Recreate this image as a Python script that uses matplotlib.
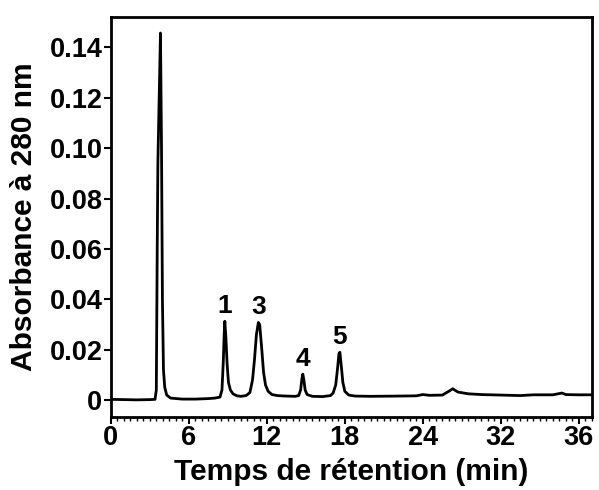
import matplotlib
matplotlib.use('Agg')
import matplotlib.pyplot as plt
from matplotlib.ticker import MultipleLocator

# chromatogram (time in min, absorbance at 280 nm)
t = [0.0, 1.0, 2.0, 3.0, 3.40, 3.50, 3.57, 3.62, 3.72, 3.82, 3.90, 3.97,
     4.05, 4.15, 4.30, 4.60, 5.5, 6.5, 7.5, 8.0, 8.40, 8.55, 8.65, 8.72,
     8.77, 8.85, 8.95, 9.05, 9.20, 9.40, 9.70, 10.0, 10.4, 10.7, 10.9,
     11.05, 11.2, 11.35, 11.45, 11.6, 11.75, 11.9, 12.1, 12.4, 12.8, 13.5,
     14.2, 14.45, 14.6, 14.7, 14.77, 14.85, 14.95, 15.1, 15.5, 16.3, 16.9,
     17.1, 17.3, 17.45, 17.55, 17.62, 17.72, 17.85, 18.0, 18.3, 18.8, 20.0,
     22.0, 23.5, 24.0, 24.5, 25.5, 26.0, 26.3, 26.7, 27.5, 28.5, 30.0, 31.5,
     32.5, 34.0, 34.7, 35.0, 36.0, 37.0]
absorb = [0.0003, 0.0002, 0.0001, 0.0002, 0.0003, 0.004, 0.060, 0.094, 0.120,
          0.1457, 0.100, 0.040, 0.012, 0.005, 0.002, 0.0008, 0.0004, 0.0004,
          0.0006, 0.0008, 0.0012, 0.004, 0.015, 0.026, 0.0313, 0.025, 0.014,
          0.007, 0.004, 0.0025, 0.0017, 0.0015, 0.0018, 0.003, 0.008, 0.016,
          0.026, 0.0308, 0.030, 0.021, 0.011, 0.006, 0.0035, 0.0022, 0.0018,
          0.0016, 0.0015, 0.0018, 0.004, 0.0085, 0.0103, 0.008, 0.004, 0.0022,
          0.0015, 0.0014, 0.0018, 0.0028, 0.006, 0.013, 0.0185, 0.019, 0.014,
          0.007, 0.0035, 0.002, 0.0016, 0.0015, 0.0016, 0.0017, 0.0022, 0.0019,
          0.0020, 0.0035, 0.0045, 0.0032, 0.0025, 0.0022, 0.0020, 0.0018,
          0.0021, 0.0021, 0.0028, 0.0022, 0.0021, 0.0021]

# peak numbers
peak_labels = ['1', '3', '4', '5']
peak_t = [8.77, 11.4, 14.77, 17.62]
peak_h = [0.0313, 0.0308, 0.0103, 0.019]

xticks = [0, 6, 12, 18, 24, 30, 36]
xticklabels = ['0', '6', '12', '18', '24', '32', '36']
yticks = [0, 0.02, 0.04, 0.06, 0.08, 0.10, 0.12, 0.14]
yticklabels = ['0', '0.02', '0.04', '0.06', '0.08', '0.10', '0.12', '0.14']

plt.rcParams['font.family'] = ['Liberation Sans', 'DejaVu Sans']
plt.rcParams['font.weight'] = 'bold'

fig = plt.figure(figsize=(5.99, 4.90), dpi=100)
ax = fig.add_axes([0.185, 0.149, 0.803, 0.816])

ax.plot(t, absorb, color='black', linewidth=2.0)

for lab, x, h in zip(peak_labels, peak_t, peak_h):
    ax.text(x, h + 0.0012, lab, ha='center', va='bottom',
            fontsize=19, fontweight='bold')

ax.set_xlim(0, 37)
ax.set_ylim(-0.0067, 0.152)
ax.set_xticks(xticks)
ax.set_xticklabels(xticklabels)
ax.set_yticks(yticks)
ax.set_yticklabels(yticklabels)
ax.xaxis.set_minor_locator(MultipleLocator(0.5))

ax.tick_params(axis='both', which='major', direction='out', length=5,
               width=1.5, labelsize=19.5, pad=1)
ax.tick_params(axis='x', which='minor', direction='out', length=3, width=1)
for lab in ax.get_xticklabels() + ax.get_yticklabels():
    lab.set_fontweight('bold')
for sp in ax.spines.values():
    sp.set_linewidth(2)

ax.set_xlabel('Temps de rétention (min)', fontsize=21.5, fontweight='bold',
              labelpad=5)
ax.set_ylabel('Absorbance à 280 nm', fontsize=21.5, fontweight='bold',
              labelpad=8)

fig.savefig('out.png', dpi=100)
